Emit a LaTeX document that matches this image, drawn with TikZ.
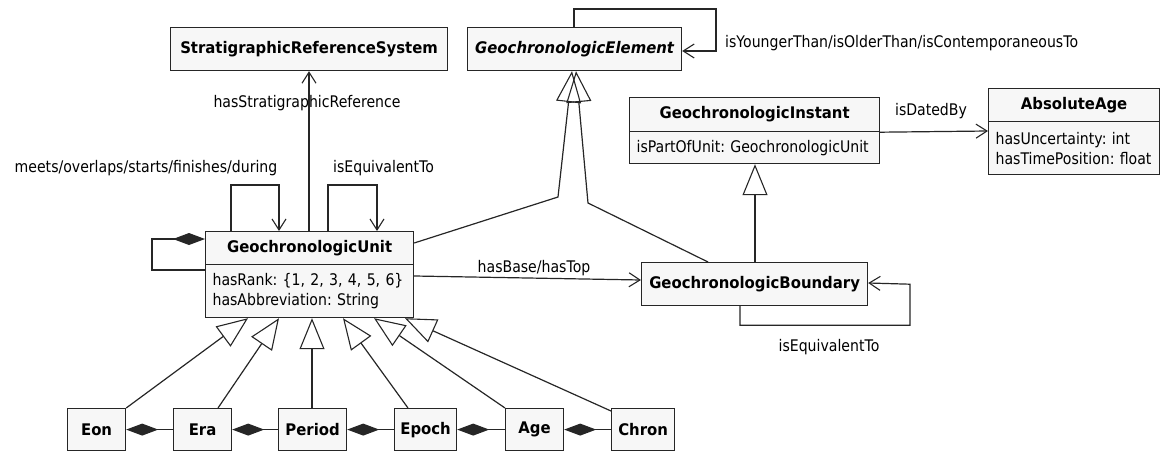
\documentclass[tikz,border=0pt]{standalone}
\usepackage{fontspec}
\setmainfont{DejaVu Sans}[FakeStretch=0.88]
\newfontfamily\boldfont{DejaVu Sans}[FakeStretch=0.93]
\usetikzlibrary{arrows.meta,calc}
\frenchspacing
\tikzset{
  fnt/.style={font=\fontsize{16}{20}\selectfont},
  cls/.style={draw=black!85, fill=black!3, line width=1.2pt, inner sep=0pt, anchor=north west,
    font=\boldfont\bfseries\fontsize{16}{20}\selectfont},
  clsit/.style={cls, font=\boldfont\bfseries\itshape\fontsize{16}{20}\selectfont},
  attr/.style={draw=black!85, fill=black!3, line width=1.2pt, inner xsep=7pt, inner ysep=0pt,
    anchor=north west, align=left, fnt},
  lbl/.style={fnt, inner sep=0pt},
  conn/.style={line width=1.2pt, draw=black!85},
  assoc/.style={conn, -{Straight Barb[length=11pt,width=14pt,line width=1.1pt]}},
  gen/.style={conn, -{Triangle[open,length=31pt,width=25pt,line width=1.1pt]}},
  comp/.style={conn, {Diamond[length=32pt,width=12pt]}-},
}
\begin{document}
\begin{tikzpicture}[x=1pt,y=-1pt]
\useasboundingbox (0,0) rectangle (1160,452);
% classes
\node[cls, minimum width=277pt, minimum height=43pt] (srs) at (170,27) {StratigraphicReferenceSystem};
\node[clsit, minimum width=214pt, minimum height=43pt] (ge) at (467,27) {GeochronologicElement};
\node[cls, minimum width=250pt, minimum height=34pt] (gih) at (629,97) {GeochronologicInstant};
\node[attr, minimum width=250pt, minimum height=32pt, text width=236pt] (gib) at (629,131) {\mbox{isPartOfUnit: GeochronologicUnit}};
\node[cls, minimum width=171pt, minimum height=33pt] (aah) at (988,88) {AbsoluteAge};
\node[attr, minimum width=171pt, minimum height=53pt, text width=157pt] (aab) at (988,121) {\mbox{hasUncertainty: int}\\\mbox{hasTimePosition: float}};
\node[cls, minimum width=208pt, minimum height=33pt] (guh) at (205,231) {GeochronologicUnit};
\node[attr, minimum width=208pt, minimum height=53pt, text width=194pt] (gub) at (205,264) {\mbox{hasRank: \{1, 2, 3, 4, 5, 6\}}\\\mbox{hasAbbreviation: String}};
\node[cls, minimum width=226pt, minimum height=43pt] (gb) at (641,262) {GeochronologicBoundary};
\node[cls, minimum width=58pt, minimum height=42pt] (eon) at (67,408) {Eon};
\node[cls, minimum width=58pt, minimum height=42pt] (era) at (173,408) {Era};
\node[cls, minimum width=68pt, minimum height=42pt] (period) at (278,408) {Period};
\node[cls, minimum width=62pt, minimum height=42pt] (epoch) at (394,408) {Epoch};
\node[cls, minimum width=58pt, minimum height=42pt] (age) at (505,408) {Age};
\node[cls, minimum width=63pt, minimum height=42pt] (chron) at (611,408) {Chron};
% associations
\draw[assoc] ($(guh.north west)+(104,0)$) -- ($(srs.south west)+(139,0)$);
\node[lbl] (lsrs) at (307,103) {hasStratigraphicReference};
\draw[assoc] ($(guh.north west)+(26,0)$) -- ++(0,-46) -- ++(48,0) -- ($(guh.north west)+(74,0)$);
\node[lbl] (lmeets) at (146,168) {meets/overlaps/starts/finishes/during};
\draw[assoc] ($(guh.north west)+(123,0)$) -- ++(0,-46) -- ++(49,0) -- ($(guh.north west)+(172,0)$);
\node[lbl, anchor=west] (lequ1) at (333,168) {isEquivalentTo};
\draw[comp] ($(guh.north west)+(0,8)$) -- ++(-53,0) -- ++(0,31) -- ($(gub.north west)+(0,6)$);
\draw[assoc] (gih.south east) -- ($(aab.north west)+(0,10)$);
\node[lbl] (ldated) at (931,111) {isDatedBy};
\draw[assoc] ($(gub.north east)+(0,12)$) -- ($(gb.north west)+(0,18)$);
\node[lbl] (lbase) at (534,268) {hasBase/hasTop};
\draw[assoc] ($(gb.south west)+(99,0)$) -- ++(0,19) -- ++(170,0) -- ++(0,-41) -- ($(gb.north east)+(0,21)$);
\node[lbl] (lequ2) at (829,347) {isEquivalentTo};
\draw[assoc] ($(ge.north west)+(107,0)$) -- ++(0,-18) -- ++(142,0) -- ++(0,42) -- ($(ge.north east)+(0,24)$);
\node[lbl, anchor=west] (lyoung) at (725,43) {isYoungerThan/isOlderThan/isContemporaneousTo};
% generalizations
\coordinate (bend1) at (558,197);
\coordinate (bend2) at (588,203);
\draw[gen] ($(guh.north east)+(0,12)$) -- (bend1) -- ($(ge.south west)+(105,0)$);
\draw[gen] ($(gb.north west)+(67,0)$) -- (bend2) -- ($(ge.south west)+(109,0)$);
\draw[gen] ($(gb.north west)+(114,0)$) -- ($(gib.south west)+(126,0)$);
\draw[gen] (eon.north east) -- ($(gub.south west)+(43,0)$);
\draw[gen] ($(era.north west)+(45,0)$) -- ($(gub.south west)+(74,0)$);
\draw[gen] ($(period.north west)+(34,0)$) -- ($(gub.south west)+(107,0)$);
\draw[gen] ($(epoch.north west)+(14,0)$) -- ($(gub.south west)+(138,0)$);
\draw[gen] (age.north west) -- ($(gub.south west)+(169,0)$);
\draw[gen] ($(chron.north west)+(0,3)$) -- ($(gub.south west)+(200,0)$);
% compositions
\draw[comp] (eon.east) -- (era.west);
\draw[comp] (era.east) -- (period.west);
\draw[comp] (period.east) -- (epoch.west);
\draw[comp] (epoch.east) -- (age.west);
\draw[comp] (age.east) -- (chron.west);
\end{tikzpicture}
\end{document}
